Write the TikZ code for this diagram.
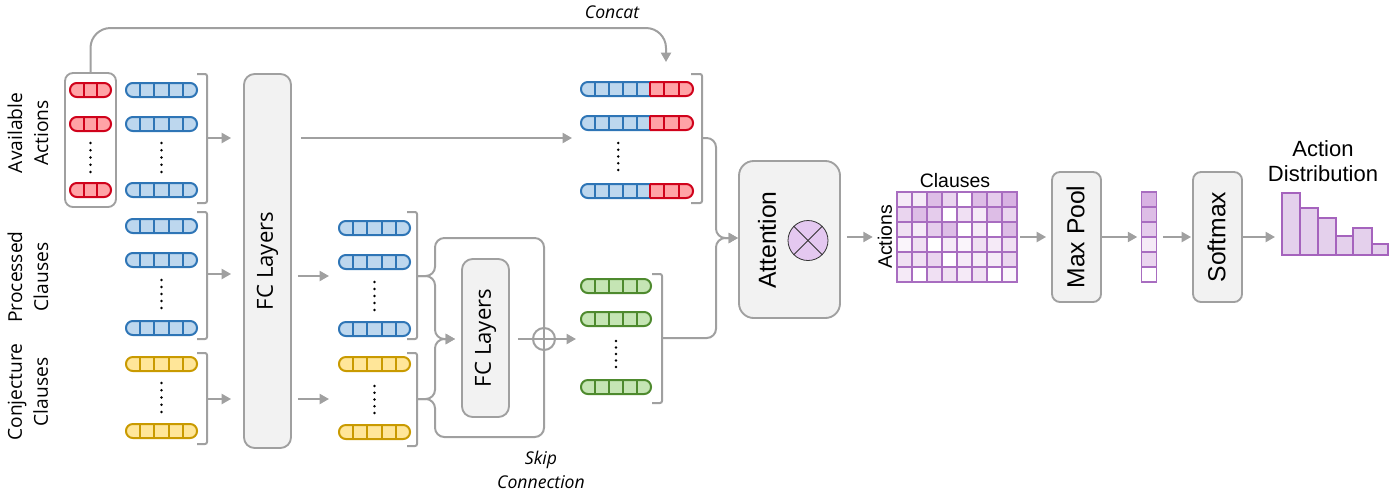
\documentclass[tikz,border=0pt]{standalone}
\usepackage{fontspec}
\setmainfont{Open Sans}
\newfontfamily\arialf{Liberation Sans}
\usetikzlibrary{arrows.meta}
\definecolor{bluef}{HTML}{BDD7EE}
\definecolor{blued}{HTML}{2E75B6}
\definecolor{redf}{HTML}{FFA3A6}
\definecolor{redd}{HTML}{D0021B}
\definecolor{yelf}{HTML}{FFE699}
\definecolor{yeld}{HTML}{C99A00}
\definecolor{grnf}{HTML}{C5E5B4}
\definecolor{grnd}{HTML}{4E8A2E}
\definecolor{boxf}{HTML}{F2F2F2}
\definecolor{boxd}{HTML}{A0A0A0}
\definecolor{arrg}{HTML}{A0A0A0}
\definecolor{gridd}{HTML}{A86DC0}
\definecolor{barf}{HTML}{E4D0EC}
\definecolor{bard}{HTML}{A563BD}
\definecolor{circf}{HTML}{E4C8F0}
\definecolor{lv0}{HTML}{FFFFFF}
\definecolor{lv1}{HTML}{FAF5FB}
\definecolor{lv2}{HTML}{F5EAF7}
\definecolor{lv3}{HTML}{F0E0F3}
\definecolor{lv4}{HTML}{EAD5EF}
\definecolor{lv5}{HTML}{E5CCEC}
\definecolor{lv6}{HTML}{DDBDE6}
\definecolor{lv7}{HTML}{D8B2E3}
\tikzset{
  vecline/.style={line width=1.5pt},
  conn/.style={draw=arrg, line width=1.5pt},
  arr/.style={conn, -{Triangle[length=7pt,width=7.5pt]}},
  brk/.style={draw=arrg, line width=1.5pt, rounded corners=1.5pt},
  box/.style={draw=boxd, fill=boxf, line width=1.4pt, rounded corners=7pt, inner sep=0pt},
  lab/.style={font=\fontsize{14.4}{19.5}\selectfont, align=center, rotate=90},
  fclab/.style={font=\fontsize{16.6}{20}\selectfont, rotate=90},
  itlab/.style={font=\fontsize{13.2}{18.5}\selectfont\itshape, align=center},
  arlab/.style={font=\arialf\fontsize{18.5}{22}\selectfont, rotate=90},
  smlab/.style={font=\arialf\fontsize{14.6}{18}\selectfont},
}
% xa, xb, yc, dividers, fill, draw
\newcommand\vecrow[6]{%
  \filldraw[fill=#5, draw=#6, vecline, rounded corners=5.1pt] (#1,#3-7) rectangle (#2,#3+7);
  \pgfmathsetmacro\cw{(#2-#1)/(#4+1)}%
  \foreach \k in {1,...,#4}{\draw[#6, vecline] ({#1+\k*\cw},#3-7) -- ({#1+\k*\cw},#3+7);}%
}
\newcommand\catrow[1]{%
  \begin{scope}\clip (570,#1-10) rectangle (650,#1+10);
    \filldraw[fill=bluef, draw=blued, vecline, rounded corners=5.1pt] (581,#1-7) rectangle (693,#1+7);
  \end{scope}
  \begin{scope}\clip (650,#1-10) rectangle (700,#1+10);
    \filldraw[fill=redf, draw=redd, vecline, rounded corners=5.1pt] (581,#1-7) rectangle (693,#1+7);
  \end{scope}
  \foreach \xx in {594.9,608.8,622.7,636.6}{\draw[blued, vecline] (\xx,#1-7) -- (\xx,#1+7);}
  \foreach \xx in {650,664.3,678.7}{\draw[redd, vecline] (\xx,#1-7) -- (\xx,#1+7);}
}
\newcommand\dotcol[3]{\foreach \i in {0,...,4}{\fill ({#1},{#2+\i*(#3-#2)/4}) circle (1.05pt);}}
\newcommand\brkt[4]{\draw[brk] (#1,#3) -- (#2,#3) -- (#2,#4) -- (#1,#4);}
\begin{document}
\begin{tikzpicture}[x=0.75pt,y=-0.75pt]
\useasboundingbox (0,0) rectangle (1393,497);

% ---------- left labels
\node[lab] (lblA) at (28,133) {Available\\Actions};
\node[lab] (lblP) at (28,277) {Processed\\Clauses};
\node[lab] (lblC) at (28,392) {Conjecture\\Clauses};

% ---------- action container
\node[box, fill=white, rounded corners=6pt, minimum width=38.25pt, minimum height=100.5pt] (actbox) at (90.5,140) {};
\foreach \yy in {90,124,190}{\vecrow{70}{111}{\yy}{2}{redf}{redd}}
\dotcol{90.5}{143}{172}

% ---------- left vectors
\foreach \yy in {90,124,190}{\vecrow{126}{197}{\yy}{4}{bluef}{blued}}
\dotcol{161.5}{143}{172}
\foreach \yy in {226,260,328}{\vecrow{126}{197}{\yy}{4}{bluef}{blued}}
\dotcol{161.5}{280}{308}
\foreach \yy in {364,431}{\vecrow{126}{197}{\yy}{4}{yelf}{yeld}}
\dotcol{161.5}{383}{412}

\brkt{197}{207}{74}{203}
\brkt{197}{207}{212}{339}
\brkt{197}{207}{353}{444}
\coordinate (bA) at (207,138);
\coordinate (bP) at (207,274);
\coordinate (bC) at (207,399);

% ---------- FC layers 1
\node[box, rounded corners=8pt, minimum width=35.25pt, minimum height=280.5pt] (fc1) at (267.5,261) {};
\node[fclab] at (fc1) {FC Layers};

\draw[arr, shorten >=9pt] (bA) -- (fc1.west|-bA);
\draw[arr, shorten >=9pt] (bP) -- (fc1.west|-bP);
\draw[arr, shorten >=9pt] (bC) -- (fc1.west|-bC);

% ---------- middle vectors
\foreach \yy in {228,262,329}{\vecrow{339}{410}{\yy}{4}{bluef}{blued}}
\dotcol{374.5}{282}{310}
\foreach \yy in {364,432}{\vecrow{339}{410}{\yy}{4}{yelf}{yeld}}
\dotcol{374.5}{386}{413}
\brkt{407}{417}{212}{339}
\brkt{407}{417}{353}{446}
\coordinate (mP) at (339,276);
\coordinate (mC) at (339,399);
\coordinate (pmB) at (417,276);
\coordinate (cmB) at (417,399);

\draw[arr, shorten <=4.5pt, shorten >=7.5pt] (fc1.east|-mP) -- (mP);
\draw[arr, shorten <=4.5pt, shorten >=7.5pt] (fc1.east|-mC) -- (mC);

% ---------- concat vectors
\foreach \yy in {89,123,191}{\catrow{\yy}}
\dotcol{618.3}{143}{170}
\brkt{691}{702}{74}{203}
\coordinate (cat) at (581,138);
\coordinate (kB) at (702,138);
\draw[arr, shorten <=6.75pt, shorten >=6.75pt] (fc1.east|-cat) -- (cat);

% concat loop
\coordinate (catTop) at (666,62);
\draw[arr, rounded corners=15pt] (actbox.north) |- (666,28) -- (catTop);
\node[itlab] (concatlbl) at (612,12) {Concat};

% ---------- FC layers 2 and skip connection
\node[box, rounded corners=8pt, minimum width=35.25pt, minimum height=118.5pt] (fc2) at (485.5,338) {};
\node[fclab] at (fc2) {FC Layers};
\node[circle, draw=arrg, line width=1.5pt, minimum size=16.5pt, inner sep=0pt] (plus) at (544,339) {};
\draw[conn] (plus.north) -- (plus.south);
\draw[conn] (plus.west) -- (plus.east);

\draw[arr, rounded corners=7pt] (pmB) -| (435,339) -- ([xshift=-4.5pt]fc2.west|-plus);
\draw[arr, rounded corners=7pt] (cmB) -| (435,339) -- ([xshift=-4.5pt]fc2.west|-plus);
\draw[conn, rounded corners=7pt] (pmB) -| (435,238) -| (plus.north);
\draw[conn, rounded corners=7pt] (cmB) -| (435,437) -| (plus.south);
\draw[conn, shorten <=6pt] (fc2.east|-plus) -- (plus.west);
\node[itlab] (skiplbl) at (541,470) {Skip\\Connection};

% ---------- green vectors
\foreach \yy in {286,319,387}{\vecrow{581}{651}{\yy}{4}{grnf}{grnd}}
\dotcol{616}{341}{367}
\brkt{652}{662}{274}{403}
\coordinate (gIn) at (581,339);
\coordinate (gB) at (662,338);
\draw[arr, shorten >=3.75pt] (plus.east) -- (gIn);

% ---------- attention
\node[box, rounded corners=11pt, minimum width=75.75pt, minimum height=117.75pt] (att) at (789.5,239.5) {};
\node[arlab] (attlbl) at (767,240) {Attention};
\node[circle, draw=black!80, fill=circf, line width=0.6pt, minimum size=30pt, inner sep=0pt] (otimes) at (808,240.5) {};
\draw[black!80, line width=0.6pt] (otimes.north west) -- (otimes.south east);
\draw[black!80, line width=0.6pt] (otimes.north east) -- (otimes.south west);

\coordinate (attIn) at (738,238);
\draw[arr, rounded corners=7pt] (kB) -| (716,238) -- (attIn);
\draw[arr, rounded corners=7pt] (gB) -| (716,238) -- (attIn);

% ---------- attention grid
\foreach \rowvals [count=\r] in {{2,2,6,4,0,6,5,7},{4,6,5,0,3,2,6,4},{3,2,5,6,0,2,0,6},{1,3,0,2,1,3,2,3},{3,3,4,0,2,2,2,4},{2,0,3,3,2,3,0,1}}{
  \foreach \v [count=\c] in \rowvals {
    \filldraw[fill=lv\v, draw=gridd, line width=1.1pt] ({897+(\c-1)*15},{192+(\r-1)*15}) rectangle ++(15,15);
  }
}
\node[inner sep=0pt, minimum width=90pt, minimum height=67.5pt] (grid) at (957,237) {};
\node[smlab] (clauseslbl) at (955,181) {Clauses};
\node[smlab, rotate=90] (actionslbl) at (885,237) {Actions};
\draw[arr, shorten <=4.5pt, shorten >=18pt] (att.east|-grid) -- (grid.west);

% ---------- max pool
\node[box, rounded corners=6pt, minimum width=36.75pt, minimum height=97.5pt] (mp) at (1076.5,237) {};
\node[arlab] at (1075.5,237) {Max Pool};
\draw[arr, shorten <=2.25pt, shorten >=3.75pt] (grid.east) -- (mp.west);

% ---------- pooled column
\foreach \v [count=\r] in {7,6,5,2,4,0}{
  \filldraw[fill=lv\v, draw=gridd, line width=1.1pt] (1141.5,{192+(\r-1)*15}) rectangle ++(15,15);
}
\node[inner sep=0pt, minimum width=11.25pt, minimum height=67.5pt] (col) at (1149,237) {};
\draw[arr, shorten >=3pt] (mp.east) -- (col.west);

% ---------- softmax
\node[box, rounded corners=6pt, minimum width=36.75pt, minimum height=97.5pt] (sm) at (1217.5,237) {};
\node[arlab] at (1216.5,237) {Softmax};
\draw[arr, shorten <=4.5pt, shorten >=0.75pt] (col.east) -- (sm.west);

% ---------- distribution
\foreach \xa/\xb/\yt in {1282/1300/193, 1300/1318.3/208.3, 1318.3/1335.7/217.7, 1335.7/1353.3/235.7, 1353.3/1372.3/227.7, 1372.3/1388.3/244.3}{
  \filldraw[fill=barf, draw=bard, line width=1.7pt] (\xa,255) rectangle (\xb,\yt);
}
\coordinate (dist) at (1282,237);
\draw[arr, shorten >=5.25pt] (sm.east) -- (dist);
\node[smlab, font=\arialf\fontsize{16.5}{18.75}\selectfont, align=center] (distlbl) at (1323,161) {Action\\Distribution};

\end{tikzpicture}
\end{document}
